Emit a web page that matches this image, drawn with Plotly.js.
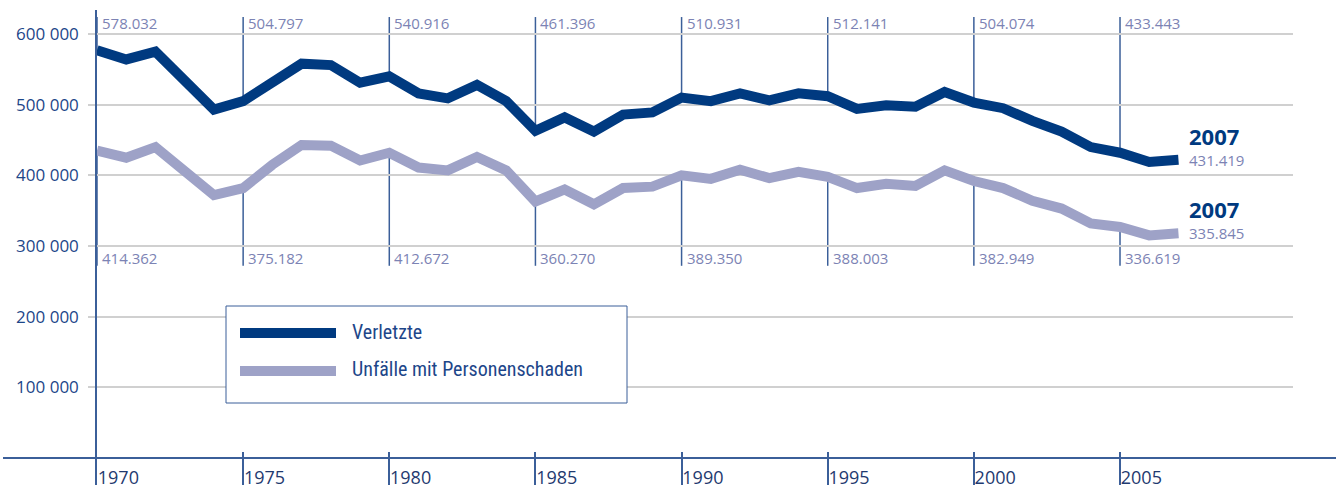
<!DOCTYPE html>
<html>
<head>
<meta charset="utf-8">
<script src="https://cdn.plot.ly/plotly-3.0.1.min.js"></script>
<style>
html,body{margin:0;padding:0;background:#fff;}
#chart{width:1336px;height:491px;}
</style>
</head>
<body>
<div id="chart"></div>
<script>
// ---- data ----
const years = [1970,1971,1972,1973,1974,1975,1976,1977,1978,1979,1980,1981,1982,1983,1984,1985,1986,1987,1988,1989,1990,1991,1992,1993,1994,1995,1996,1997,1998,1999,2000,2001,2002,2003,2004,2005,2006,2007];
const verletzte = [577000,564000,575000,535000,493000,505000,532000,558000,556000,531000,540000,516000,509000,528000,505000,463000,482000,462000,486000,489000,510000,505000,516000,506000,516000,512000,494000,499000,497000,518000,503000,495000,477000,462000,440000,432000,419000,422000];
const unfaelle = [435000,425000,440000,407000,372000,382000,415000,443000,442000,421000,432000,411000,407000,426000,407000,363000,380000,359000,382000,384000,400000,395000,408000,396000,405000,398000,382000,388000,385000,407000,392000,382000,364000,353000,332000,327000,315000,318000];

const labelYears = [1970,1975,1980,1985,1990,1995,2000,2005];
const verletzteLabels = ["578.032","504.797","540.916","461.396","510.931","512.141","504.074","433.443"];
const unfaelleLabels = ["414.362","375.182","412.672","360.270","389.350","388.003","382.949","336.619"];
const endYear = "2007";
const verletzteEnd = "431.419";
const unfaelleEnd = "335.845";

const yTickVals = [100000,200000,300000,400000,500000,600000];
const yTickText = ["100 000","200 000","300 000","400 000","500 000","600 000"];
const xTickVals = [1970,1975,1980,1985,1990,1995,2000,2005];
const xTickText = ["1970","1975","1980","1985","1990","1995","2000","2005"];

const nameV = "Verletzte";
const nameU = "Unfälle mit Personenschaden";

// ---- styles ----
const DARK = "#003a80";
const LIGHT = "#9ea2c7";
const AXIS = "#3b5f99";
const GRID = "#d0d0d0";
const VALCOL = "#7c83b4";
const TXT = "#1d4689";
const FONT = "'Open Sans', 'DejaVu Sans', sans-serif";
const NARROW = "'Liberation Sans Narrow', 'Roboto Condensed', 'Noto Sans', sans-serif";

// plot area geometry (pixels)
const L = 97, R = 1293, T = 10, B = 485, W = 1336, H = 491;
const yMin = -38208, yMax = 633962;
const px = p => (p - L) / (R - L);          // pixel x -> paper
const py = p => (B - p) / (B - T);          // pixel y -> paper
const yTopData = 624000, yBotData = 272000;

const traces = [
  {x: years, y: unfaelle, type: 'scatter', mode: 'lines', name: nameU,
   line: {color: LIGHT, width: 10}, hoverinfo: 'x+y'},
  {x: years, y: verletzte, type: 'scatter', mode: 'lines', name: nameV,
   line: {color: DARK, width: 10}, hoverinfo: 'x+y'}
];

const shapes = [];
const annotations = [];

// connectors and value labels
labelYears.forEach((yr, i) => {
  const idx = years.indexOf(yr);
  shapes.push({type: 'line', layer: 'below', xref: 'x', yref: 'y', x0: yr, x1: yr,
    y0: verletzte[idx], y1: yTopData, line: {color: AXIS, width: 1.5}});
  shapes.push({type: 'line', layer: 'below', xref: 'x', yref: 'y', x0: yr, x1: yr,
    y0: unfaelle[idx], y1: yBotData, line: {color: AXIS, width: 1.5}});
  annotations.push({x: yr, xref: 'x', y: py(23), yref: 'paper', text: verletzteLabels[i],
    showarrow: false, xanchor: 'left', yanchor: 'middle', xshift: 3,
    font: {family: FONT, size: 15, color: VALCOL}});
  annotations.push({x: yr, xref: 'x', y: py(258), yref: 'paper', text: unfaelleLabels[i],
    showarrow: false, xanchor: 'left', yanchor: 'middle', xshift: 3,
    font: {family: FONT, size: 15, color: VALCOL}});
});

// end labels
const last = years.length - 1;
[[verletzte, verletzteEnd], [unfaelle, unfaelleEnd]].forEach(([ser, txt]) => {
  annotations.push({x: years[last], y: ser[last], xref: 'x', yref: 'y', text: txt,
    showarrow: false, xanchor: 'left', yanchor: 'middle', xshift: 9,
    font: {family: FONT, size: 15, color: VALCOL}});
  annotations.push({x: years[last], y: ser[last], xref: 'x', yref: 'y', text: '<b>' + endYear + '</b>',
    showarrow: false, xanchor: 'left', yanchor: 'middle', xshift: 9, yshift: 24,
    font: {family: FONT, size: 22, color: DARK}});
});

// horizontal axis line (zero), extends beyond plot area
const zeroPaper = (0 - yMin) / (yMax - yMin);
shapes.push({type: 'line', layer: 'above', xref: 'paper', yref: 'paper',
  x0: px(3), x1: px(1336), y0: zeroPaper, y1: zeroPaper, line: {color: AXIS, width: 2}});

// manual legend
shapes.push({type: 'rect', layer: 'above', xref: 'paper', yref: 'paper',
  x0: px(226), x1: px(627), y0: py(306), y1: py(403),
  line: {color: AXIS, width: 1}, fillcolor: '#ffffff'});
shapes.push({type: 'line', layer: 'above', xref: 'paper', yref: 'paper',
  x0: px(240), x1: px(336), y0: py(333), y1: py(333), line: {color: DARK, width: 10}});
shapes.push({type: 'line', layer: 'above', xref: 'paper', yref: 'paper',
  x0: px(240), x1: px(336), y0: py(371), y1: py(371), line: {color: LIGHT, width: 10}});
annotations.push({x: px(350), y: py(332), xref: 'paper', yref: 'paper', text: nameV,
  showarrow: false, xanchor: 'left', yanchor: 'middle',
  font: {family: NARROW, size: 20, color: TXT}});
annotations.push({x: px(350), y: py(369), xref: 'paper', yref: 'paper', text: nameU,
  showarrow: false, xanchor: 'left', yanchor: 'middle',
  font: {family: NARROW, size: 20, color: TXT}});

const layout = {
  width: W, height: H,
  margin: {l: L, r: W - R, t: T, b: H - B, pad: 0},
  paper_bgcolor: '#ffffff', plot_bgcolor: '#ffffff',
  showlegend: false,
  xaxis: {
    range: [1970, 1970 + (R - L) / 29.229],
    tickvals: xTickVals, ticktext: xTickText,
    ticks: 'inside', ticklen: 33, tickwidth: 1.5, tickcolor: AXIS,
    ticklabelposition: 'inside right',
    ticklabelstandoff: -9,
    showgrid: false, zeroline: false, showline: false,
    tickfont: {family: FONT, size: 18, color: '#1f3a70'}
  },
  yaxis: {
    range: [yMin, yMax],
    tickvals: yTickVals, ticktext: yTickText,
    ticks: 'outside', ticklen: 7, tickwidth: 2, tickcolor: GRID,
    showgrid: true, gridcolor: GRID, gridwidth: 2,
    zeroline: false, showline: true, linecolor: AXIS, linewidth: 1.5,
    ticklabelstandoff: 6,
    tickfont: {family: FONT, size: 17, color: TXT}
  },
  shapes: shapes,
  annotations: annotations
};

Plotly.newPlot('chart', traces, layout, {displayModeBar: false, staticPlot: false});
</script>
</body>
</html>
